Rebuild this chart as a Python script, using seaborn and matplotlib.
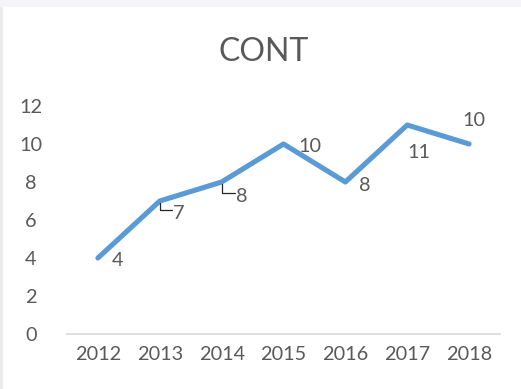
import matplotlib
matplotlib.use("Agg")
import matplotlib.pyplot as plt
import seaborn as sns
import pandas as pd
from matplotlib.patches import Rectangle
from matplotlib.lines import Line2D
from matplotlib.transforms import IdentityTransform

years = ["2012", "2013", "2014", "2015", "2016", "2017", "2018"]
values = [4, 7, 8, 10, 8, 11, 10]
title = "CONT"
yticks = [0, 2, 4, 6, 8, 10, 12]

sns.set_style("white")
plt.rcParams['font.family'] = ['Lato', 'DejaVu Sans']

TXT = "#595959"
FS = 14.3
fig = plt.figure(figsize=(5.21, 3.89), dpi=100)
ax = fig.add_axes([67/521, 1-334/389, 433/521, 228/389])

df = pd.DataFrame({"year": years, "value": values})
sns.lineplot(data=df, x="year", y="value", ax=ax, color="#5B9BD5", linewidth=3.7,
             solid_capstyle="round", solid_joinstyle="round", zorder=3)

ax.set_xlim(-0.5, len(years) - 0.5)
ax.set_ylim(0, 12)
ax.set_yticks(yticks)
ax.set_xlabel("")
ax.set_ylabel("")
for s in ["top", "right", "left"]:
    ax.spines[s].set_visible(False)
ax.spines["bottom"].set_color("#d9d9d9")
ax.spines["bottom"].set_linewidth(1.2)
ax.tick_params(axis="both", length=0, labelsize=FS, colors=TXT)
ax.tick_params(axis="x", pad=9)
ax.tick_params(axis="y", pad=26)
for t in ax.get_yticklabels():
    t.set_horizontalalignment("center")
ax.grid(False)

fig.text(264/521, 1-52/389, title, ha="center", va="center", fontsize=23, color=TXT)

# label offsets in pixels (dx, dy), converted to points
px = 72/100
offsets = [(20, -3), (19, -12), (20, -14), (26, -2), (19, -3), (12, -28), (5, 24)]
leaders = [False, True, True, False, False, False, False]
for i, (v, (dx, dy), ld) in enumerate(zip(values, offsets, leaders)):
    ax.annotate(str(v), xy=(i, v), xytext=(dx*px, dy*px), textcoords="offset points",
                ha="center", va="center", fontsize=FS, color=TXT)
    if ld:
        x0, y0 = ax.transData.transform((i, v))
        lx = [x0, x0, x0 + dx - 7]
        ly = [y0 - 2, y0 + dy + 3, y0 + dy + 3]
        fig.add_artist(Line2D(lx, ly, transform=IdentityTransform(), color="#262626",
                              lw=0.9, zorder=2))

# faint screenshot artifacts: top band and left border
fig.patches.append(Rectangle((0, 1-7/389), 1, 7/389, transform=fig.transFigure,
                             facecolor="#f4f4f9", edgecolor="none", zorder=-1))
fig.patches.append(Rectangle((0, 0), 3/521, 1-7/389, transform=fig.transFigure,
                             facecolor="#ececec", edgecolor="none", zorder=-1))

fig.savefig("out.png", dpi=100)
